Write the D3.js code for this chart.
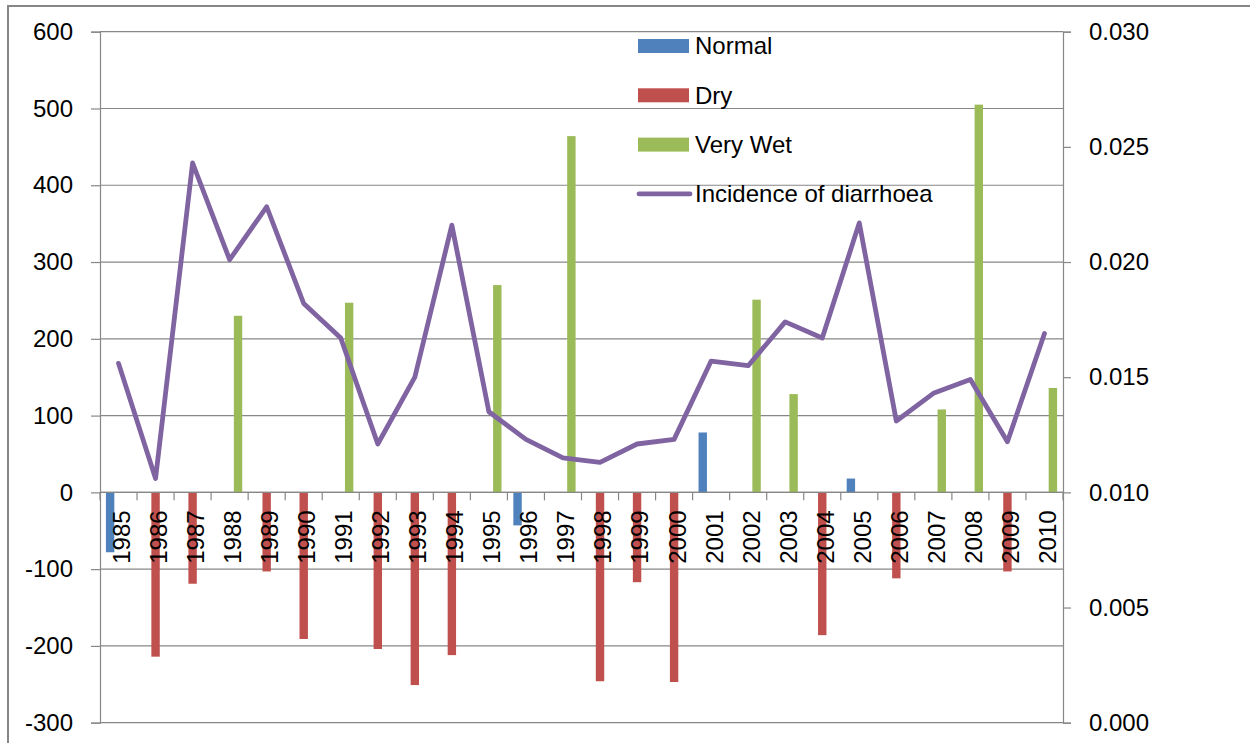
<!DOCTYPE html>
<html>
<head>
<meta charset="utf-8">
<script src="https://cdn.jsdelivr.net/npm/d3@7/dist/d3.min.js"></script>
<style>
  html, body { margin: 0; padding: 0; background: #fff; }
  svg { display: block; }
  text { font-family: "Liberation Sans", Arial, sans-serif; fill: #000; }
</style>
</head>
<body>
<svg id="chart" width="1250" height="743"></svg>
<script>
// Rainfall anomaly by year, split by rainfall class, and incidence of diarrhoea
const years = ["1985","1986","1987","1988","1989","1990","1991","1992","1993","1994",
               "1995","1996","1997","1998","1999","2000","2001","2002","2003","2004",
               "2005","2006","2007","2008","2009","2010"];
const normal = [-78, null, null, null, null, null, null, null, null, null,
                null, -43, null, null, null, null, 78, null, null, null,
                18, null, null, null, null, null];
const dry = [null, -214, -119, null, -103, -191, null, -204, -251, -212,
             null, null, null, -246, -117, -247, null, null, null, -186,
             null, -112, null, null, -103, null];
const veryWet = [null, null, null, 230, null, null, 247, null, null, null,
                 270, null, 464, null, null, null, null, 251, 128, null,
                 null, null, 108, 505, null, 136];
const incidence = [0.0156, 0.0106, 0.0243, 0.0201, 0.0224, 0.0182, 0.0167, 0.0121, 0.0150, 0.0216,
                   0.0135, 0.0123, 0.0115, 0.0113, 0.0121, 0.0123, 0.0157, 0.0155, 0.0174, 0.0167,
                   0.0217, 0.0131, 0.0143, 0.0149, 0.0122, 0.0169];
const leftTicks = [-300, -200, -100, 0, 100, 200, 300, 400, 500, 600];
const rightTicks = [0, 0.005, 0.010, 0.015, 0.020, 0.025, 0.030];

const seriesNames = ["Normal", "Dry", "Very Wet"];
const seriesValues = [normal, dry, veryWet];
const colors = { "Normal": "#4F81BD", "Dry": "#C0504D", "Very Wet": "#9BBB59", "line": "#8064A2" };
const gridColor = "#878787";

const svg = d3.select("#chart");

// outer chart frame
svg.append("rect")
  .attr("x", 8).attr("y", 6).attr("width", 1400).attr("height", 900)
  .attr("fill", "#fff").attr("stroke", "#868686").attr("stroke-width", 2);

const plot = { left: 100, right: 1063, top: 31.7, bottom: 722.7 };

const x0 = d3.scaleBand().domain(years).range([plot.left, plot.right]).paddingInner(0).paddingOuter(0);
const x1 = d3.scaleBand().domain(seriesNames).range([0, x0.bandwidth()]).paddingInner(0).paddingOuter(0.705);
const yL = d3.scaleLinear().domain([-300, 600]).range([plot.bottom, plot.top]);
const yR = d3.scaleLinear().domain([0, 0.03]).range([plot.bottom, plot.top]);

// plain hyphen-minus for negative tick labels
const intFmt = d => String(d);

// horizontal gridlines
svg.append("g").selectAll("line").data(leftTicks).join("line")
  .attr("x1", plot.left).attr("x2", plot.right)
  .attr("y1", d => yL(d)).attr("y2", d => yL(d))
  .attr("stroke", gridColor).attr("stroke-width", 1.2);

// left value axis
const axL = svg.append("g").attr("transform", `translate(${plot.left},0)`)
  .call(d3.axisLeft(yL).tickValues(leftTicks).tickSize(9).tickPadding(18).tickFormat(intFmt));
axL.select(".domain").attr("stroke", gridColor).attr("stroke-width", 1.2);
axL.selectAll(".tick line").attr("stroke", gridColor).attr("stroke-width", 1.2);
axL.selectAll("text").attr("font-size", 24).attr("font-family", "Liberation Sans, Arial, sans-serif").attr("fill", "#000");

// right value axis
const axR = svg.append("g").attr("transform", `translate(${plot.right},0)`)
  .call(d3.axisRight(yR).tickValues(rightTicks).tickSize(8).tickPadding(18).tickFormat(d3.format(".3f")));
axR.select(".domain").attr("stroke", gridColor).attr("stroke-width", 1.2);
axR.selectAll(".tick line").attr("stroke", gridColor).attr("stroke-width", 1.2);
axR.selectAll("text").attr("font-size", 24).attr("font-family", "Liberation Sans, Arial, sans-serif").attr("fill", "#000");

// clustered bars
seriesNames.forEach((name, si) => {
  const rows = years.map((yr, i) => ({ yr, v: seriesValues[si][i] })).filter(d => d.v !== null);
  svg.append("g").selectAll("rect").data(rows).join("rect")
    .attr("x", d => x0(d.yr) + x1(name))
    .attr("width", x1.bandwidth())
    .attr("y", d => Math.min(yL(0), yL(d.v)))
    .attr("height", d => Math.abs(yL(d.v) - yL(0)))
    .attr("fill", colors[name]);
});

// category axis along zero
const zeroY = yL(0);
svg.append("line")
  .attr("x1", plot.left).attr("x2", plot.right).attr("y1", zeroY).attr("y2", zeroY)
  .attr("stroke", gridColor).attr("stroke-width", 1.2);
const bounds = years.map(y => x0(y)).concat([plot.right]);
svg.append("g").selectAll("line").data(bounds).join("line")
  .attr("x1", d => d).attr("x2", d => d).attr("y1", zeroY).attr("y2", zeroY + 8)
  .attr("stroke", gridColor).attr("stroke-width", 1.2);
svg.append("g").selectAll("text").data(years).join("text")
  .attr("transform", d => `translate(${x0(d) + x0.bandwidth() / 2 + 3},${zeroY + 18}) rotate(-90)`)
  .attr("text-anchor", "end").attr("dy", "0.35em")
  .attr("font-size", 24)
  .text(d => d);

// incidence line
const line = d3.line()
  .x((d, i) => x0(years[i]) + x0.bandwidth() / 2)
  .y(d => yR(d));
svg.append("path").datum(incidence)
  .attr("d", line).attr("fill", "none")
  .attr("stroke", colors.line).attr("stroke-width", 4.8)
  .attr("stroke-linejoin", "round").attr("stroke-linecap", "round");

// legend
const legendItems = [
  { name: "Normal", type: "bar", color: colors["Normal"] },
  { name: "Dry", type: "bar", color: colors["Dry"] },
  { name: "Very Wet", type: "bar", color: colors["Very Wet"] },
  { name: "Incidence of diarrhoea", type: "line", color: colors.line }
];
const leg = svg.append("g").attr("transform", "translate(638,46)");
legendItems.forEach((it, i) => {
  const g = leg.append("g").attr("transform", `translate(0,${i * 49.3})`);
  if (it.type === "bar") {
    g.append("rect").attr("x", 0).attr("y", -7).attr("width", 51).attr("height", 14).attr("fill", it.color);
  } else {
    g.append("line").attr("x1", 1).attr("x2", 52).attr("y1", 0).attr("y2", 0)
      .attr("stroke", it.color).attr("stroke-width", 4.8).attr("stroke-linecap", "round");
  }
  g.append("text").attr("x", 57).attr("y", 0).attr("dy", "0.35em").attr("font-size", 24).text(it.name);
});
</script>
</body>
</html>
